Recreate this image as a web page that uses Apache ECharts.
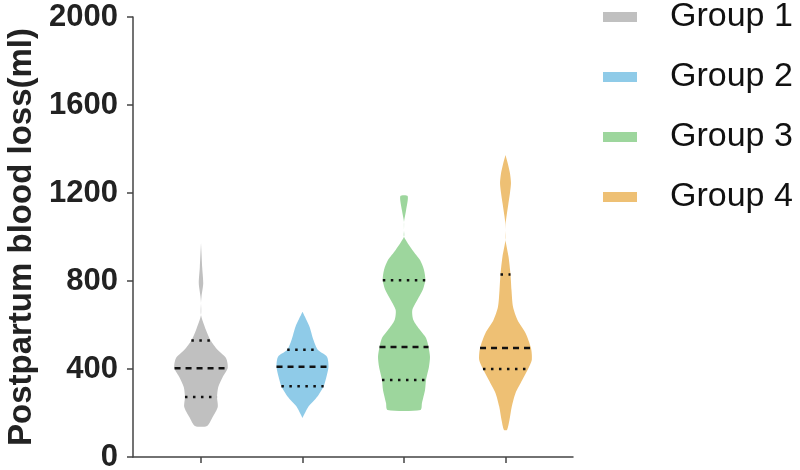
<!DOCTYPE html>
<html><head><meta charset="utf-8">
<script src="https://cdn.jsdelivr.net/npm/echarts@6/dist/echarts.min.js"></script>
<style>html,body{margin:0;padding:0;background:#fff}#c{width:800px;height:470px}</style>
</head><body><div id="c"></div>
<script>
// ---- data ----
const groups = ['Group 1', 'Group 2', 'Group 3', 'Group 4'];
const yTicks = [0, 400, 800, 1200, 1600, 2000];

// violin profiles: blood-loss value (ml) and kernel half-width (in category units)
const g1Values  = [141, 182, 227, 273, 318, 364, 405, 450, 486, 532, 577, 645, 700, 730, 790, 860, 973];
const g1Density = [0.059, 0.115, 0.165, 0.158, 0.170, 0.214, 0.263, 0.246, 0.165, 0.092, 0.049, 0, 0, 0.005, 0.022, 0.012, 0];

const g2Values  = [177, 229, 259, 282, 320, 365, 410, 456, 486, 532, 592, 660];
const g2Density = [0, 0.059, 0.118, 0.158, 0.207, 0.236, 0.256, 0.241, 0.153, 0.108, 0.069, 0];

const g3Values  = [214, 245, 305, 350, 410, 456, 501, 541, 577, 623, 668, 714, 759, 805, 850, 895, 941, 1001, 1030, 1068, 1120, 1186];
const g3Density = [0.163, 0.177, 0.207, 0.217, 0.246, 0.256, 0.241, 0.217, 0.158, 0.092, 0.082, 0.131, 0.184, 0.210, 0.197, 0.158, 0.082, 0, 0, 0, 0.020, 0.036];

const g4Values  = [123, 168, 229, 291, 350, 400, 441, 495, 564, 623, 683, 759, 832, 910, 986, 1030, 1064, 1100, 1150, 1200, 1245, 1290, 1330, 1373];
const g4Density = [0.015, 0.039, 0.062, 0.099, 0.165, 0.222, 0.259, 0.251, 0.197, 0.118, 0.074, 0.059, 0.049, 0.030, 0, 0, 0.002, 0.012, 0.028, 0.044, 0.054, 0.044, 0.025, 0];

// quartiles: [Q1, median, Q3]
const g1Quartiles = [273, 403, 530];
const g2Quartiles = [322, 410, 488];
const g3Quartiles = [350, 500, 803];
const g4Quartiles = [400, 495, 830];

// ---- chart ----
const profileValues = [g1Values, g2Values, g3Values, g4Values];
const profileDensity = [g1Density, g2Density, g3Density, g4Density];
const quartiles = [g1Quartiles, g2Quartiles, g3Quartiles, g4Quartiles];
const colors = ['#c0c0c0', '#8fcbe8', '#9dd69d', '#eec074'];
const FONT = '"Liberation Sans", Arial, Helvetica, sans-serif';

function interp(vals, dens, v) {
  for (let i = 0; i < vals.length - 1; i++) {
    if (v >= vals[i] && v <= vals[i + 1]) {
      const t = (v - vals[i]) / (vals[i + 1] - vals[i]);
      return dens[i] + t * (dens[i + 1] - dens[i]);
    }
  }
  return 0;
}

function renderItem(params, api) {
  const gi = api.value(0);
  const vals = profileValues[gi], dens = profileDensity[gi];
  const cx = gi + 1;
  const left = [], right = [];
  for (let i = 0; i < vals.length; i++) {
    left.push(api.coord([cx - dens[i], vals[i]]));
    right.push(api.coord([cx + dens[i], vals[i]]));
  }
  const pts = left.concat(right.reverse());
  const children = [{ type: 'polygon', shape: { points: pts, smooth: 0.25 }, style: { fill: colors[gi] } }];
  quartiles[gi].forEach(function (v, k) {
    const hw = interp(vals, dens, v);
    const p1 = api.coord([cx - hw, v]);
    const p2 = api.coord([cx + hw, v]);
    children.push({
      type: 'line',
      shape: { x1: p1[0], y1: p1[1], x2: p2[0], y2: p2[1] },
      style: { stroke: '#111', lineWidth: 2.5, lineDash: k === 1 ? [6, 5] : [2.5, 5.5] }
    });
  });
  return { type: 'group', children: children };
}

const chart = echarts.init(document.getElementById('c'));
chart.setOption({
  animation: false,
  backgroundColor: '#fff',
  textStyle: { fontFamily: FONT },
  grid: { left: 133, right: 227, top: 17, bottom: 13, containLabel: false, outerBoundsMode: 'none' },
  legend: {
    orient: 'vertical',
    left: 603,
    top: 0,
    padding: 0,
    itemWidth: 34,
    itemHeight: 10,
    itemGap: 26,
    icon: 'rect',
    data: groups,
    textStyle: { fontSize: 34, color: '#111', fontFamily: FONT, lineHeight: 30, padding: [0, 0, 0, 28] }
  },
  xAxis: {
    type: 'value',
    min: 0.33,
    max: 4.665,
    splitLine: { show: false },
    axisLine: { show: true, lineStyle: { color: '#444', width: 1.5 } },
    axisTick: { show: true, customValues: [1, 2, 3, 4], length: 6, lineStyle: { color: '#444', width: 1.5 } },
    axisLabel: { show: false }
  },
  yAxis: {
    type: 'value',
    min: yTicks[0],
    max: yTicks[yTicks.length - 1],
    interval: 400,
    name: 'Postpartum blood loss(ml)',
    nameLocation: 'middle',
    nameGap: 90,
    nameTextStyle: { fontSize: 33, fontWeight: 'bold', color: '#222', fontFamily: FONT },
    splitLine: { show: false },
    axisLine: { show: true, lineStyle: { color: '#444', width: 1.5 } },
    axisTick: { show: true, length: 6, lineStyle: { color: '#444', width: 1.5 } },
    axisLabel: { fontSize: 31, fontWeight: 'bold', color: '#222', margin: 15, fontFamily: FONT, formatter: function (v) { return String(v); } }
  },
  series: groups.map(function (g, i) {
    return {
      type: 'custom',
      name: g,
      itemStyle: { color: colors[i] },
      renderItem: renderItem,
      encode: { x: 0, y: 1 },
      data: [[i, quartiles[i][1]]]
    };
  })
});
</script></body></html>
